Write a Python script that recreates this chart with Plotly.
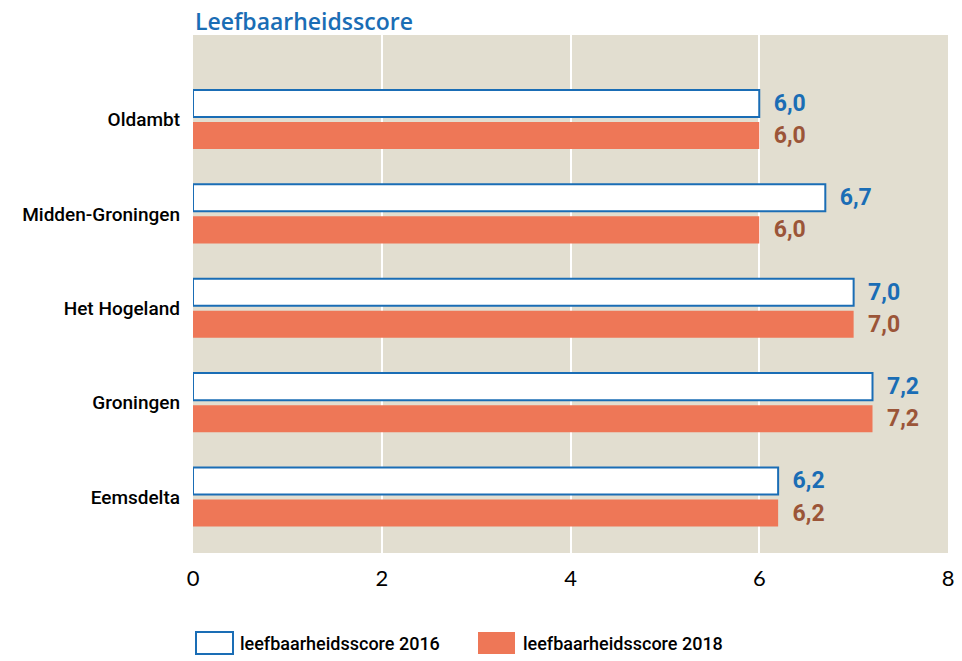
import plotly.graph_objects as go

regions = ["Oldambt", "Midden-Groningen", "Het Hogeland", "Groningen", "Eemsdelta"]
score_2016 = [6.0, 6.7, 7.0, 7.2, 6.2]
score_2018 = [6.0, 6.0, 7.0, 7.2, 6.2]
series_names = ["leefbaarheidsscore 2016", "leefbaarheidsscore 2018"]

blue = "#1a6db5"
salmon = "#ee7757"
brown = "#9b5538"
label_font = "Roboto, sans-serif"

W, H = 962, 661
ML, MR, MT, MB = 193, 14, 35, 108
PW, PH = W - ML - MR, H - MT - MB


def px(xp):
    # page pixel x -> paper x
    return (xp - ML) / PW


def py(yp):
    # page pixel y -> paper y
    return (H - MB - yp) / PH


fig = go.Figure()

fig.add_trace(go.Bar(
    y=regions, x=score_2016, orientation="h",
    name=series_names[0],
    marker=dict(color="white", line=dict(color=blue, width=2)),
    texttemplate="\u00a0\u00a0%{x:.1f}", textposition="outside",
    outsidetextfont=dict(color=blue, size=23, family=label_font, weight="bold"),
    cliponaxis=False, showlegend=False, hoverinfo="skip",
))
fig.add_trace(go.Bar(
    y=regions, x=score_2018, orientation="h",
    name=series_names[1],
    marker=dict(color=salmon, line=dict(width=0)),
    texttemplate="\u00a0\u00a0%{x:.1f}", textposition="outside",
    outsidetextfont=dict(color=brown, size=23, family=label_font, weight="bold"),
    cliponaxis=False, showlegend=False, hoverinfo="skip",
))

# legend swatches drawn as big boxes like the original
legend_items = [
    dict(x0=196, x1=233, fill="white", line=blue, lw=2, tx=238),
    dict(x0=478, x1=515, fill=salmon, line=salmon, lw=0, tx=521),
]
for name, it in zip(series_names, legend_items):
    fig.add_shape(type="rect", xref="paper", yref="paper",
                  x0=px(it["x0"]), x1=px(it["x1"]), y0=py(632), y1=py(654),
                  fillcolor=it["fill"], line=dict(color=it["line"], width=it["lw"]))
    fig.add_annotation(text=name, xref="paper", yref="paper",
                       x=px(it["tx"]), y=py(643), xanchor="left", yanchor="middle",
                       showarrow=False,
                       font=dict(size=18, family=label_font, color="black", weight=500))

fig.update_layout(
    width=W, height=H,
    margin=dict(l=ML, r=MR, t=MT, b=MB),
    paper_bgcolor="white",
    plot_bgcolor="#e2ded0",
    separators=",.",
    barmode="group",
    bargap=0.32,
    bargroupgap=0.156,
    title=dict(text="Leefbaarheidsscore", x=195 / W, xanchor="left",
               xref="container", yref="container",
               y=1 - 22 / H, yanchor="middle",
               font=dict(color=blue, size=23, family="Open Sans, sans-serif", weight=600)),
    xaxis=dict(range=[0, 8], dtick=2, showgrid=True, gridcolor="white",
               gridwidth=1.5, zeroline=False, showline=False, automargin=False,
               ticks="", ticklabelstandoff=10,
               tickfont=dict(size=22, color="black", family="Lato, sans-serif")),
    yaxis=dict(range=[4.593, -0.895], showgrid=False, ticks="", automargin=False,
               ticklabelstandoff=12,
               tickfont=dict(size=19, color="black", family=label_font, weight=500)),
    showlegend=False,
)

# drop the browser's default body margin so the figure fills the window
fig.write_html("out.html", config=dict(displayModeBar=False),
               post_script="document.body.style.margin='0';")
